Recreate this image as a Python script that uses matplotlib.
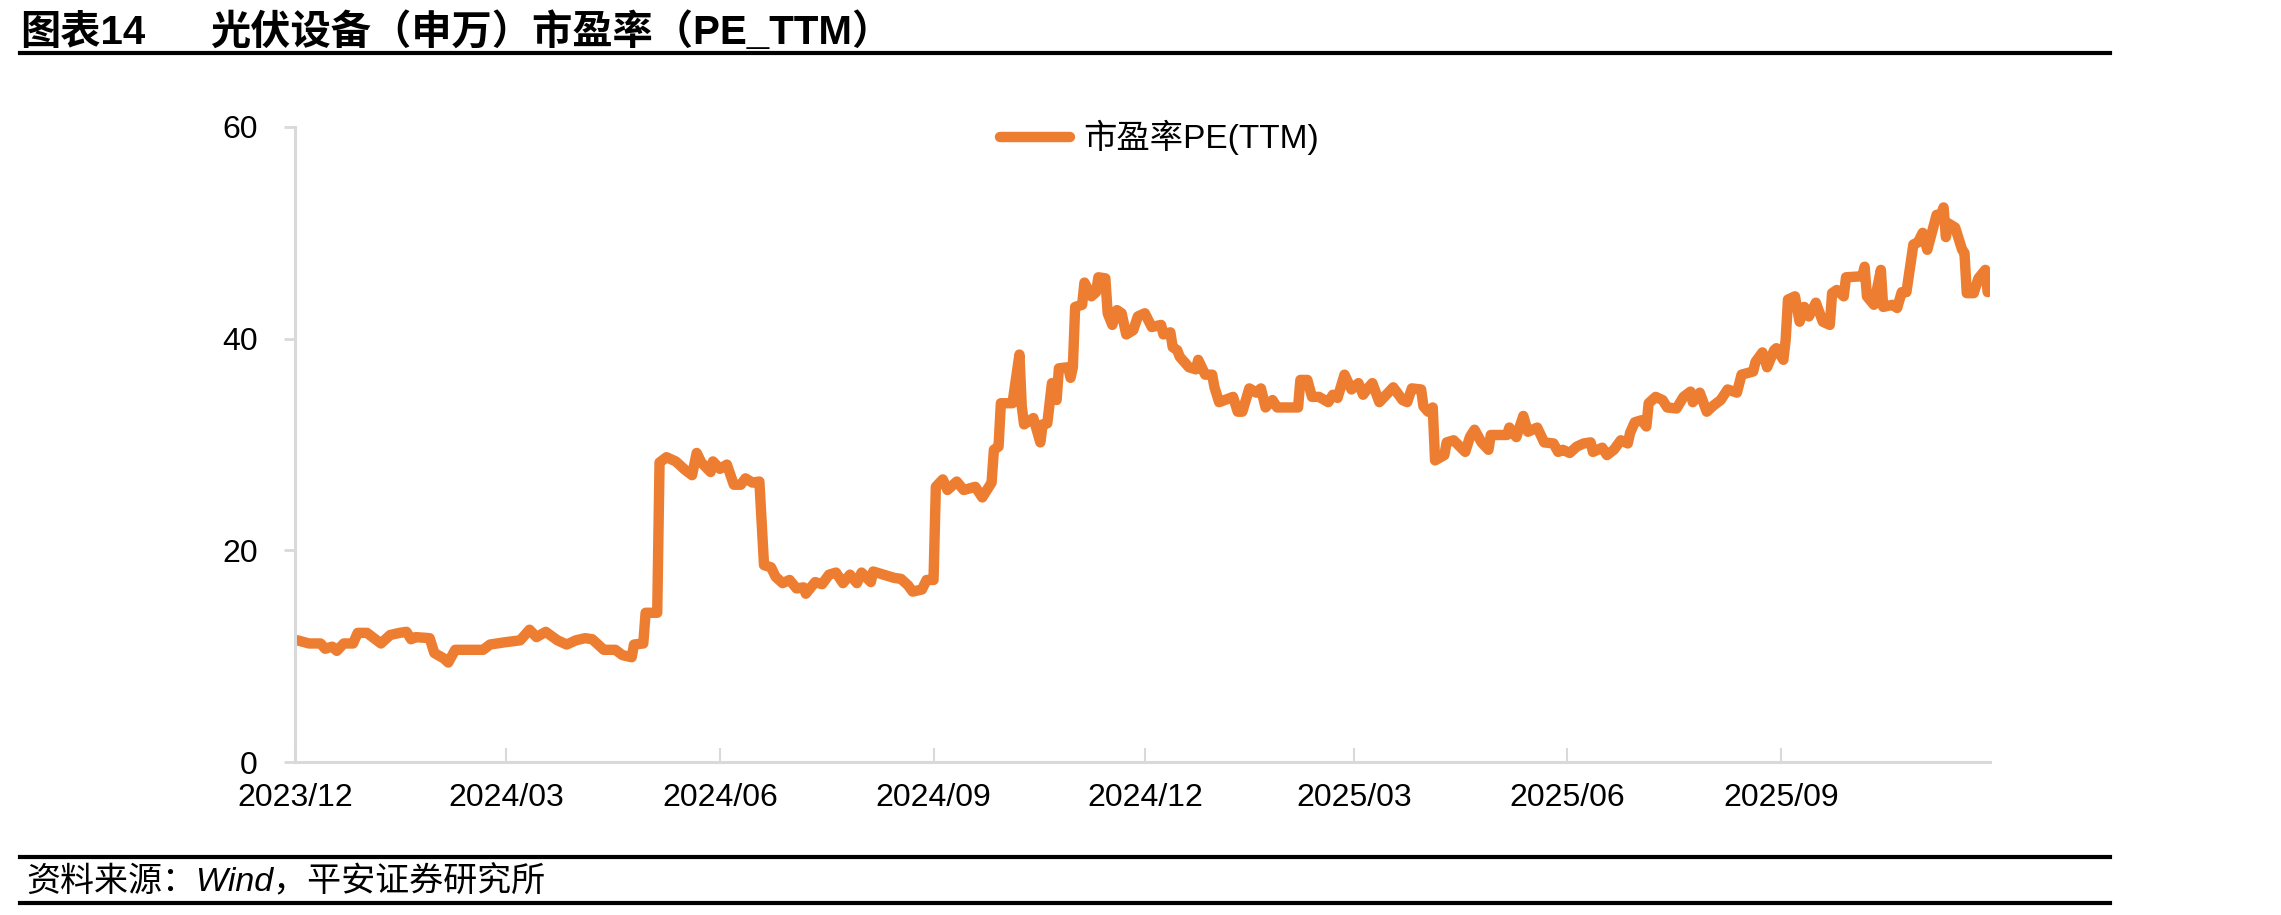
import numpy as np
import pandas as pd
import matplotlib
matplotlib.use("Agg")
import matplotlib.pyplot as plt
import matplotlib.dates as mdates
from matplotlib.lines import Line2D

plt.rcParams['font.family'] = ['Liberation Sans', 'Noto Sans CJK SC', 'DejaVu Sans']

TITLE_NO = "图表14"
TITLE = "光伏设备（申万）市盈率（PE_TTM）"
SOURCE = "资料来源：Wind，平安证券研究所"
SERIES_NAME = "市盈率PE(TTM)"

# values
dates = [
    "2023-12-02", "2023-12-07", "2023-12-12", "2023-12-14", "2023-12-17", "2023-12-19",
    "2023-12-22", "2023-12-26", "2023-12-28", "2024-01-01", "2024-01-07", "2024-01-11",
    "2024-01-15", "2024-01-18", "2024-01-20", "2024-01-22", "2024-01-28", "2024-01-30",
    "2024-02-03", "2024-02-05", "2024-02-08", "2024-02-20", "2024-02-23", "2024-02-29",
    "2024-03-07", "2024-03-11", "2024-03-14", "2024-03-18", "2024-03-23", "2024-03-27",
    "2024-03-31", "2024-04-04", "2024-04-07", "2024-04-12", "2024-04-17", "2024-04-20",
    "2024-04-24", "2024-04-25", "2024-04-29", "2024-04-30", "2024-05-05", "2024-05-06",
    "2024-05-09", "2024-05-13", "2024-05-17", "2024-05-20", "2024-05-22", "2024-05-24",
    "2024-05-28", "2024-05-29", "2024-06-01", "2024-06-04", "2024-06-07", "2024-06-10",
    "2024-06-12", "2024-06-15", "2024-06-18", "2024-06-20", "2024-06-23", "2024-06-25",
    "2024-06-28", "2024-07-01", "2024-07-04", "2024-07-07", "2024-07-08", "2024-07-12",
    "2024-07-15", "2024-07-18", "2024-07-21", "2024-07-24", "2024-07-27", "2024-07-30",
    "2024-08-01", "2024-08-05", "2024-08-06", "2024-08-15", "2024-08-18", "2024-08-21",
    "2024-08-23", "2024-08-27", "2024-08-29", "2024-09-01", "2024-09-02", "2024-09-05",
    "2024-09-07", "2024-09-11", "2024-09-14", "2024-09-19", "2024-09-22", "2024-09-26",
    "2024-09-27", "2024-09-29", "2024-09-30", "2024-10-05", "2024-10-08", "2024-10-09",
    "2024-10-10", "2024-10-14", "2024-10-17", "2024-10-18", "2024-10-20", "2024-10-22",
    "2024-10-24", "2024-10-25", "2024-10-29", "2024-10-30", "2024-10-31", "2024-11-01",
    "2024-11-04", "2024-11-05", "2024-11-08", "2024-11-10", "2024-11-11", "2024-11-14",
    "2024-11-15", "2024-11-17", "2024-11-19", "2024-11-21", "2024-11-23", "2024-11-26",
    "2024-11-28", "2024-12-01", "2024-12-04", "2024-12-08", "2024-12-09", "2024-12-12",
    "2024-12-13", "2024-12-15", "2024-12-16", "2024-12-20", "2024-12-23", "2024-12-24",
    "2024-12-27", "2024-12-30", "2024-12-31", "2025-01-02", "2025-01-08", "2025-01-10",
    "2025-01-12", "2025-01-15", "2025-01-18", "2025-01-20", "2025-01-22", "2025-01-25",
    "2025-01-27", "2025-02-05", "2025-02-06", "2025-02-09", "2025-02-11", "2025-02-14",
    "2025-02-18", "2025-02-20", "2025-02-22", "2025-02-25", "2025-02-28", "2025-03-03",
    "2025-03-05", "2025-03-07", "2025-03-09", "2025-03-12", "2025-03-18", "2025-03-22",
    "2025-03-24", "2025-03-26", "2025-03-30", "2025-03-31", "2025-04-02", "2025-04-04",
    "2025-04-05", "2025-04-09", "2025-04-10", "2025-04-13", "2025-04-18", "2025-04-20",
    "2025-04-22", "2025-04-25", "2025-04-28", "2025-04-29", "2025-05-06", "2025-05-07",
    "2025-05-10", "2025-05-13", "2025-05-15", "2025-05-19", "2025-05-22", "2025-05-26",
    "2025-05-28", "2025-05-30", "2025-06-02", "2025-06-05", "2025-06-08", "2025-06-11",
    "2025-06-12", "2025-06-16", "2025-06-18", "2025-06-21", "2025-06-24", "2025-06-27",
    "2025-06-28", "2025-06-30", "2025-07-03", "2025-07-05", "2025-07-06", "2025-07-09",
    "2025-07-12", "2025-07-14", "2025-07-18", "2025-07-21", "2025-07-24", "2025-07-25",
    "2025-07-28", "2025-07-31", "2025-08-03", "2025-08-06", "2025-08-09", "2025-08-13",
    "2025-08-15", "2025-08-20", "2025-08-21", "2025-08-24", "2025-08-26", "2025-08-29",
    "2025-08-30", "2025-09-02", "2025-09-03", "2025-09-04", "2025-09-07", "2025-09-09",
    "2025-09-11", "2025-09-13", "2025-09-16", "2025-09-19", "2025-09-22", "2025-09-23",
    "2025-09-25", "2025-09-28", "2025-09-29", "2025-10-06", "2025-10-07", "2025-10-08",
    "2025-10-11", "2025-10-12", "2025-10-14", "2025-10-15", "2025-10-19", "2025-10-21",
    "2025-10-23", "2025-10-25", "2025-10-28", "2025-10-30", "2025-11-01", "2025-11-03",
    "2025-11-07", "2025-11-09", "2025-11-10", "2025-11-11", "2025-11-12", "2025-11-15",
    "2025-11-18", "2025-11-19", "2025-11-20", "2025-11-23", "2025-11-25", "2025-11-28",
    "2025-11-29",
]

pe_ttm = [
    11.5, 11.2, 11.2, 10.7, 10.9, 10.5,
    11.2, 11.2, 12.2, 12.2, 11.2, 12.0,
    12.2, 12.3, 11.6, 11.8, 11.7, 10.3,
    9.8, 9.4, 10.6, 10.6, 11.1, 11.3,
    11.5, 12.5, 11.8, 12.3, 11.5, 11.1,
    11.5, 11.7, 11.6, 10.6, 10.6, 10.1,
    9.9, 11.1, 11.2, 14.1, 14.1, 28.3,
    28.8, 28.4, 27.6, 27.1, 29.2, 28.3,
    27.4, 28.4, 27.7, 28.1, 26.2, 26.2,
    26.8, 26.4, 26.5, 18.6, 18.4, 17.5,
    16.9, 17.2, 16.4, 16.5, 15.9, 17.0,
    16.8, 17.7, 17.9, 16.9, 17.7, 16.9,
    17.9, 17.0, 18.0, 17.4, 17.3, 16.7,
    16.1, 16.3, 17.2, 17.2, 26.0, 26.7,
    25.7, 26.5, 25.7, 26.0, 25.0, 26.4,
    29.5, 29.8, 33.9, 33.9, 38.5, 33.6,
    31.9, 32.5, 30.2, 31.9, 32.0, 35.8,
    34.2, 37.2, 37.3, 36.3, 37.3, 43.0,
    43.2, 45.3, 44.0, 44.4, 45.8, 45.7,
    42.4, 41.3, 42.7, 42.4, 40.4, 40.8,
    42.1, 42.4, 41.1, 41.3, 40.4, 40.6,
    39.2, 38.9, 38.3, 37.3, 37.1, 38.0,
    36.6, 36.6, 35.4, 34.0, 34.5, 33.1,
    33.1, 35.3, 34.9, 35.3, 33.5, 34.2,
    33.5, 33.5, 36.1, 36.1, 34.5, 34.5,
    34.0, 34.7, 34.4, 36.6, 35.2, 35.8,
    34.7, 35.3, 35.8, 34.0, 35.4, 34.2,
    34.0, 35.3, 35.2, 33.6, 33.1, 33.5,
    28.5, 29.0, 30.2, 30.4, 29.3, 30.7,
    31.4, 30.2, 29.5, 30.9, 30.9, 31.6,
    30.7, 32.7, 31.2, 31.6, 30.2, 30.1,
    29.3, 29.5, 29.2, 29.8, 30.1, 30.2,
    29.3, 29.7, 29.0, 29.5, 30.4, 30.1,
    31.1, 32.1, 32.3, 31.7, 33.9, 34.5,
    34.2, 33.5, 33.4, 34.5, 35.0, 34.0,
    34.9, 33.1, 33.7, 34.2, 35.2, 34.9,
    36.6, 36.9, 37.8, 38.7, 37.3, 38.9,
    39.1, 38.0, 39.9, 43.7, 44.0, 41.6,
    43.0, 42.1, 43.4, 41.6, 41.3, 44.3,
    44.6, 44.0, 45.8, 45.9, 46.8, 44.0,
    43.2, 44.3, 46.5, 43.0, 43.2, 42.9,
    44.4, 44.4, 48.9, 49.1, 50.0, 48.4,
    51.7, 51.7, 52.4, 49.6, 50.9, 50.5,
    48.4, 48.1, 44.3, 44.3, 45.7, 46.5,
    44.4,
]

tick_dates = ["2023-12-01", "2024-03-01", "2024-06-01", "2024-09-01",
              "2024-12-01", "2025-03-01", "2025-06-01", "2025-09-01"]
x_start, x_end = "2023-12-01", "2025-11-30"
y_ticks = [0, 20, 40, 60]

ORANGE = "#ED7D31"
AXIS_GREY = "#D9D9D9"

fig = plt.figure(figsize=(22.81, 9.15), dpi=100)
ax = fig.add_axes([295 / 2281, 1 - 762 / 915, (1990 - 295) / 2281, (762 - 127) / 915])

x = pd.to_datetime(dates)
ax.plot(x, pe_ttm, color=ORANGE, lw=7.5, solid_capstyle="round",
        solid_joinstyle="round", label=SERIES_NAME)

ax.set_xlim(pd.Timestamp(x_start), pd.Timestamp(x_end))
ax.set_ylim(0, 60)
ax.set_yticks(y_ticks)
ax.set_xticks(pd.to_datetime(tick_dates))
ax.xaxis.set_major_formatter(mdates.DateFormatter("%Y/%m"))

for side in ["top", "right"]:
    ax.spines[side].set_visible(False)
for side in ["left", "bottom"]:
    ax.spines[side].set_color(AXIS_GREY)
    ax.spines[side].set_linewidth(2.2)

ax.tick_params(axis="x", direction="in", length=10, width=1.5, color=AXIS_GREY,
               labelsize=23, pad=15)
ax.tick_params(axis="y", direction="out", length=8, width=2, color=AXIS_GREY,
               labelsize=23, pad=19)

ax.legend(loc="center", bbox_to_anchor=(0.51, 0.983), frameon=False,
          fontsize=24, handlelength=2.1, handletextpad=0.4)

# title block
fig.text(20 / 2281, 1 - 44 / 915, TITLE_NO, fontsize=29, fontweight="bold", va="baseline")
fig.text(210 / 2281, 1 - 44 / 915, TITLE, fontsize=29, fontweight="bold", va="baseline")
fig.add_artist(Line2D([20 / 2281, 2110 / 2281], [1 - 53 / 915] * 2, color="black", lw=3))

# source block
fig.add_artist(Line2D([20 / 2281, 2110 / 2281], [1 - 857 / 915] * 2, color="black", lw=3))
fig.text(26 / 2281, 1 - 882 / 915, SOURCE, fontsize=24.5, fontstyle="italic", va="center",
         family=["Liberation Sans", "Noto Sans CJK SC"])
fig.add_artist(Line2D([20 / 2281, 2110 / 2281], [1 - 903 / 915] * 2, color="black", lw=3))

fig.savefig("out.png", dpi=100)
